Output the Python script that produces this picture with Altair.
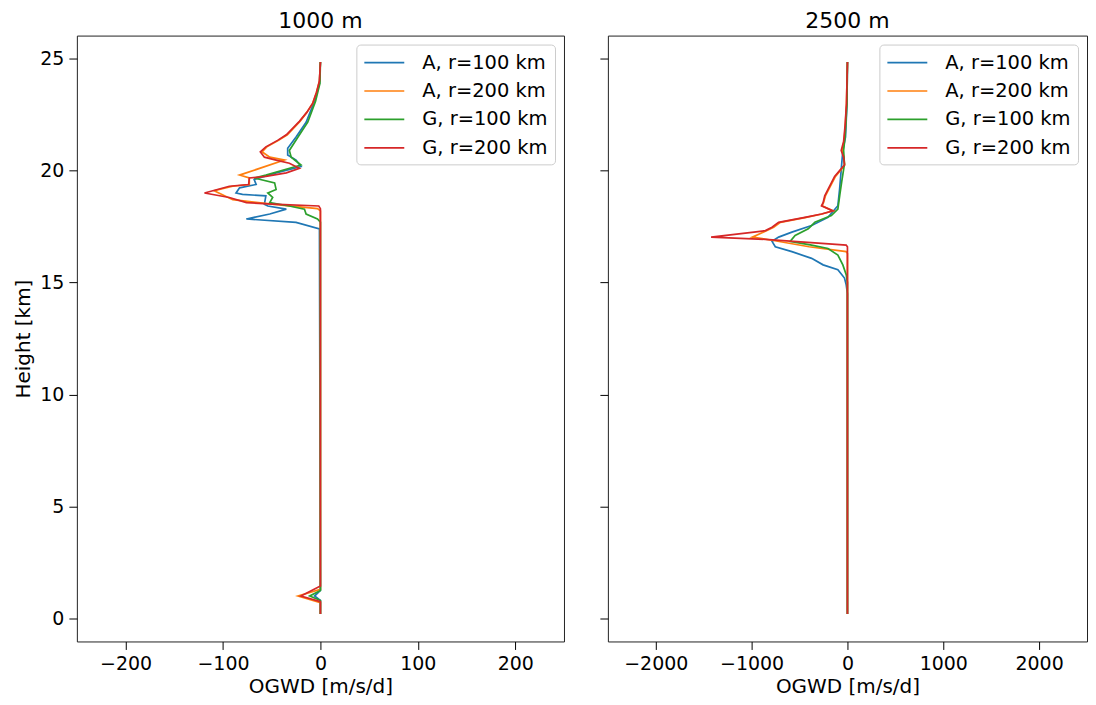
import altair as alt
import pandas as pd

series_names = ["A, r=100 km", "A, r=200 km", "G, r=100 km", "G, r=200 km"]
colors = ["#1f77b4", "#ff7f0e", "#2ca02c", "#d62728"]
panel_titles = ["1000 m", "2500 m"]
x_ticks_1000 = [-200, -100, 0, 100, 200]
x_ticks_2500 = [-2000, -1000, 0, 1000, 2000]
y_ticks = [0, 5, 10, 15, 20, 25]

# ---- 1000 m panel: heights [km] and OGWD [m/s/d]
h_1000_A100 = [24.85, 23.9, 23.1, 22.16, 21.5, 21.0, 20.7, 20.47, 20.18, 19.9, 19.6, 19.38, 19.23, 19.0, 18.94,
               18.87, 18.5, 18.42, 18.28, 18.06, 17.84, 17.69, 17.4, 1.25, 1.0, 0.8, 0.2]
x_1000_A100 = [0, -1, -6, -14.7, -25, -33.6, -33.6, -25, -19.9, -45.5, -68, -66, -83, -86.6, -80,
               -56, -57.5, -54, -35, -52, -76, -25, -1, 0, -6, 0, 0]
h_1000_A200 = [24.85, 24.0, 23.5, 23.0, 22.6, 22.2, 21.6, 21.35, 21.06, 20.84, 20.6, 20.47, 19.8, 19.67, 19.38,
               19.3, 19.1, 18.7, 18.5, 18.3, 18.2, 1.3, 1.0, 0.7, 0.2]
x_1000_A200 = [0, -1, -4, -8, -14, -21, -34, -43, -55, -60, -52, -37, -83, -73, -73,
               -90, -109, -90, -50, -3, 0, 0, -23, 0, 0]
h_1000_G100 = [24.85, 23.9, 23.1, 22.16, 21.5, 20.9, 20.6, 20.25, 19.8, 19.67, 19.45, 19.16, 19.0, 18.8, 18.57,
               18.42, 18.28, 18.06, 17.84, 17.7, 1.25, 1.0, 0.8, 0.2]
x_1000_G100 = [0, -0.5, -5, -13, -23, -31.9, -30, -20, -56, -68, -47, -45.5, -54, -49, -52,
               -32, -16.4, -14.7, -3, 0, 0, -11, 0, 0]
h_1000_G200 = [24.85, 24.0, 23.5, 23.0, 22.6, 22.2, 21.6, 21.35, 21.06, 20.84, 20.6, 20.47, 20.33, 20.1, 19.9,
               19.74, 19.67, 19.38, 19.3, 19.0, 18.8, 18.57, 18.5, 18.42, 18.3, 1.45, 1.0, 0.75, 0.2]
x_1000_G200 = [0, -1, -4, -8, -14, -21.6, -35, -44, -56, -61.7, -57.5, -45.5, -31.9, -21.6, -35,
               -56, -73, -73.7, -93.5, -119, -93.5, -76, -49, -1.7, 0, 0, -20, 0, 0]

# ---- 2500 m panel
h_2500_A100 = [24.85, 23.0, 21.5, 20.9, 20.3, 19.16, 18.43, 17.91, 17.55, 17.25, 17.03, 16.84, 16.6, 16.38,
               16.08, 15.79, 15.57, 15.2, 14.9, 14.5, 0.2]
x_2500_A100 = [0, -5, -20, -48, -60, -82, -100, -203, -374, -580, -718, -787, -753, -580,
               -374, -254, -100, -31, -13, 0, 0]
h_2500_A200 = [24.85, 23.0, 22.0, 21.3, 20.9, 20.6, 20.25, 20.0, 19.74, 19.45, 19.16, 18.87, 18.57, 18.43,
               18.2, 18.06, 17.91, 17.69, 17.47, 17.32, 17.03, 16.89, 16.6, 16.38, 16.3, 0.2]
x_2500_A200 = [0, -10, -22, -35, -55, -38, -30, -75, -125, -160, -195, -230, -250, -265,
               -150, -265, -430, -700, -770, -840, -993, -787, -400, -13, 0, 0]
h_2500_G100 = [24.85, 23.0, 21.5, 20.9, 20.3, 19.5, 18.9, 18.28, 17.99, 17.69, 17.4, 17.1, 16.84, 16.67,
               16.52, 16.23, 15.79, 15.35, 15.0, 0.2]
x_2500_G100 = [0, -5, -25, -40, -31, -60, -80, -100, -168, -340, -409, -546, -598, -374,
               -203, -100, -48, -13, 0, 0]
h_2500_G200 = [24.85, 23.0, 22.0, 21.3, 20.9, 20.6, 20.25, 20.0, 19.74, 19.45, 19.16, 18.87, 18.57, 18.43,
               18.2, 18.06, 17.91, 17.69, 17.47, 17.32, 17.25, 17.03, 16.93, 16.67, 16.6, 0.2]
x_2500_G200 = [0, -10, -25, -40, -65, -40, -31, -82, -134, -168, -203, -237, -254, -271,
               -151, -271, -443, -718, -787, -856, -976, -1423, -856, -13, 0, 0]


def build(hs, xs):
    rows = []
    for name, h, x in zip(series_names, hs, xs):
        for i, (hh, xx) in enumerate(zip(h, x)):
            rows.append({"series": name, "idx": i, "h": hh, "x": xx})
    return pd.DataFrame(rows)


df1 = build([h_1000_A100, h_1000_A200, h_1000_G100, h_1000_G200],
            [x_1000_A100, x_1000_A200, x_1000_G100, x_1000_G200])
df2 = build([h_2500_A100, h_2500_A200, h_2500_G100, h_2500_G200],
            [x_2500_A100, x_2500_A200, x_2500_G100, x_2500_G200])

FONT = "DejaVu Sans"
legend = alt.Legend(title=None, orient="top-right", offset=9, symbolType="M-1,0H3", symbolSize=400,
                    symbolStrokeWidth=1.7, labelFontSize=19.5, labelFont=FONT, labelColor="black",
                    strokeColor="#cccccc", fillColor="white", cornerRadius=4, padding=7,
                    labelOffset=37, rowPadding=7.5)


def panel(df, title, xdom, xticks, show_y, width):
    yaxis = alt.Axis(values=y_ticks, title="Height [km]" if show_y else None, labels=show_y)
    return alt.Chart(df, title=alt.Title(title, offset=3)).mark_line(strokeWidth=1.7).encode(
        x=alt.X("x:Q", scale=alt.Scale(domain=xdom, nice=False, zero=False),
                axis=alt.Axis(values=xticks, title="OGWD [m/s/d]", format="d",
                              labelExpr="replace(datum.label, '-', '\u2212')")),
        y=alt.Y("h:Q", scale=alt.Scale(domain=[-1.03, 26.03], nice=False, zero=False), axis=yaxis),
        color=alt.Color("series:N", scale=alt.Scale(domain=series_names, range=colors), legend=legend),
        order="idx:Q",
    ).properties(width=width, height=607)


left = panel(df1, panel_titles[0], [-250, 250], x_ticks_1000, True, 488)
right = panel(df2, panel_titles[1], [-2500, 2500], x_ticks_2500, False, 480)

chart = alt.hconcat(left, right, spacing=34).resolve_scale(color="independent").properties(
    padding={"left": 5, "top": 0, "right": 0, "bottom": 0}
).configure_view(stroke="#222222", strokeWidth=1).configure_axis(
    grid=False, domain=False, tickColor="black", tickSize=8, tickWidth=1,
    labelFont=FONT, labelFontSize=19, labelColor="black", labelPadding=5,
    titleFont=FONT, titleFontSize=20, titleFontWeight="normal", titleColor="black", titlePadding=6,
).configure_axisX(titlePadding=3, labelPadding=5).configure_title(
    font=FONT, fontSize=22, fontWeight="normal", color="black"
)

chart.save("out.html", embed_options={"renderer": "svg", "actions": False})
